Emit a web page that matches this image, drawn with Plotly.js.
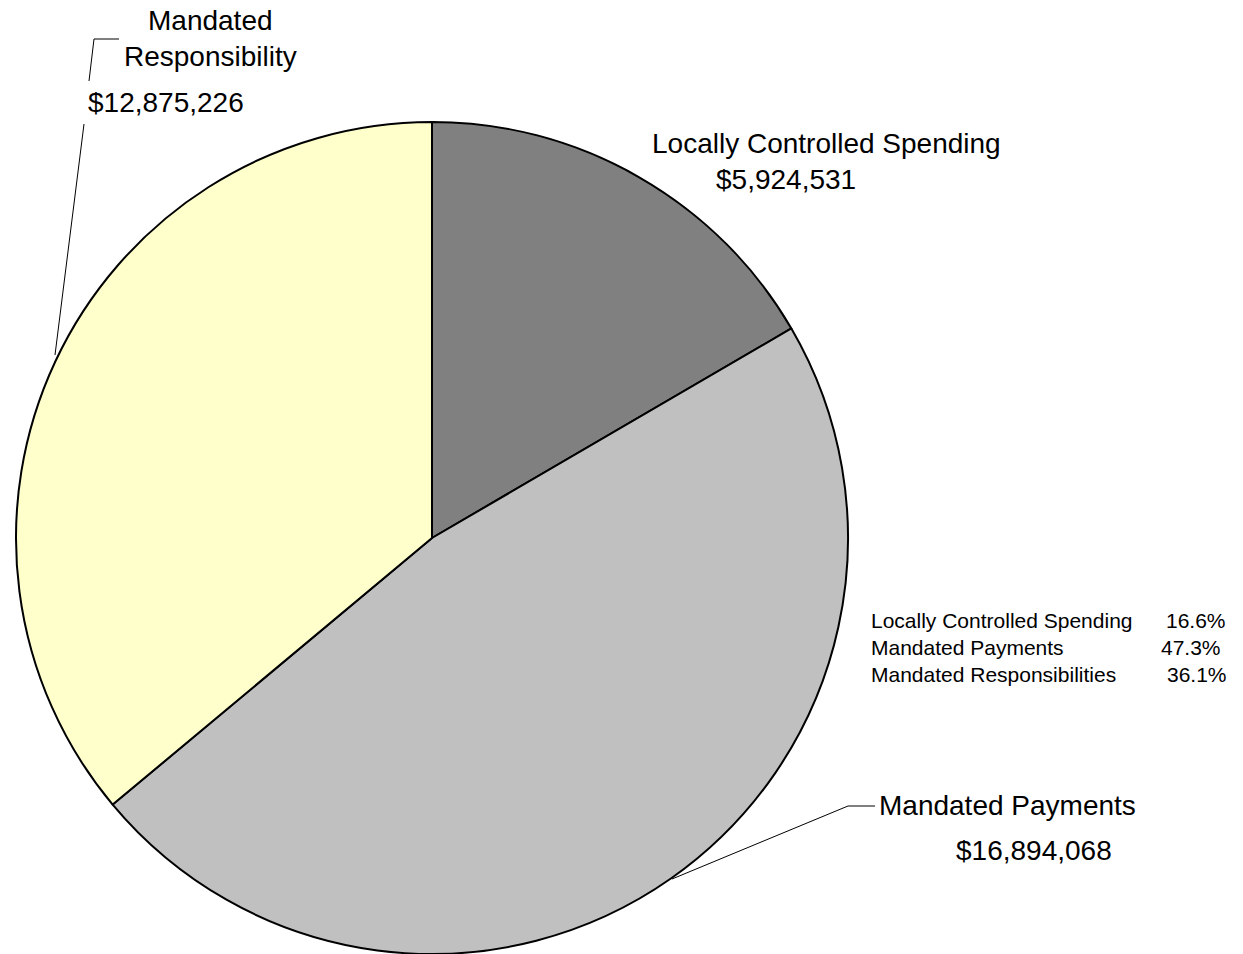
<!DOCTYPE html>
<html>
<head>
<meta charset="utf-8">
<script src="https://cdn.plot.ly/plotly-3.0.1.min.js"></script>
<style>html,body{margin:0;padding:0;background:#fff;}#chart{width:1243px;height:954px;}</style>
</head>
<body>
<div id="chart"></div>
<script>
var categories = ["Locally Controlled Spending", "Mandated Payments", "Mandated Responsibility"];
var values = [5924531, 16894068, 12875226];
var colors = ["#808080", "#C0C0C0", "#FFFFCC"];
var valueLabels = ["$5,924,531", "$16,894,068", "$12,875,226"];
var tableNames = ["Locally Controlled Spending", "Mandated Payments", "Mandated Responsibilities"];
var tablePcts = ["16.6%", "47.3%", "36.1%"];

var W = 1243, H = 954;
function px(x){ return x / W; }
function py(y){ return 1 - y / H; }
var FONT = "Liberation Sans, Arial, sans-serif";

var trace = {
  type: "pie",
  labels: categories,
  values: values,
  sort: false,
  direction: "clockwise",
  rotation: 0,
  marker: { colors: colors, line: { color: "#000", width: 2 } },
  textinfo: "none",
  hoverinfo: "label+value+percent",
  domain: { x: [px(16), px(848)], y: [py(954), py(122)] },
  showlegend: false
};

function ann(text, x, y, xanchor, size){
  return { text: text, x: px(x), y: py(y), xref: "paper", yref: "paper",
    xanchor: xanchor, yanchor: "middle", showarrow: false,
    font: { family: FONT, size: size, color: "#000" } };
}

var annotations = [
  ann("Mandated", 210, 20, "center", 28),
  ann("Responsibility", 210, 57, "center", 28),
  ann(valueLabels[2], 86, 103, "left", 28),
  ann(categories[0], 826, 144, "center", 28),
  ann(valueLabels[0], 786, 180, "center", 28),
  ann(categories[1], 877, 805, "left", 28),
  ann(valueLabels[1], 1034, 850, "center", 28)
];
var rowY = [620, 647, 674];
var pctRight = [1228, 1223, 1229];
for (var i = 0; i < tableNames.length; i++) {
  annotations.push(ann(tableNames[i], 869, rowY[i], "left", 21));
  annotations.push(ann(tablePcts[i], pctRight[i], rowY[i], "right", 21));
}

function seg(x0, y0, x1, y1){
  return { type: "line", xref: "paper", yref: "paper", x0: px(x0), y0: py(y0), x1: px(x1), y1: py(y1),
    line: { color: "#000", width: 1 }, layer: "below" };
}
var shapes = [
  seg(55, 355, 84, 124), seg(89, 81, 94, 39), seg(94, 39, 119, 39),
  seg(672, 879, 848, 806), seg(848, 806, 875, 806)
];

var layout = {
  width: W, height: H,
  margin: { l: 0, r: 0, t: 0, b: 0 },
  paper_bgcolor: "#fff",
  plot_bgcolor: "#fff",
  annotations: annotations,
  shapes: shapes,
  showlegend: false
};

Plotly.newPlot("chart", [trace], layout, { displayModeBar: false, staticPlot: true });
</script>
</body>
</html>
